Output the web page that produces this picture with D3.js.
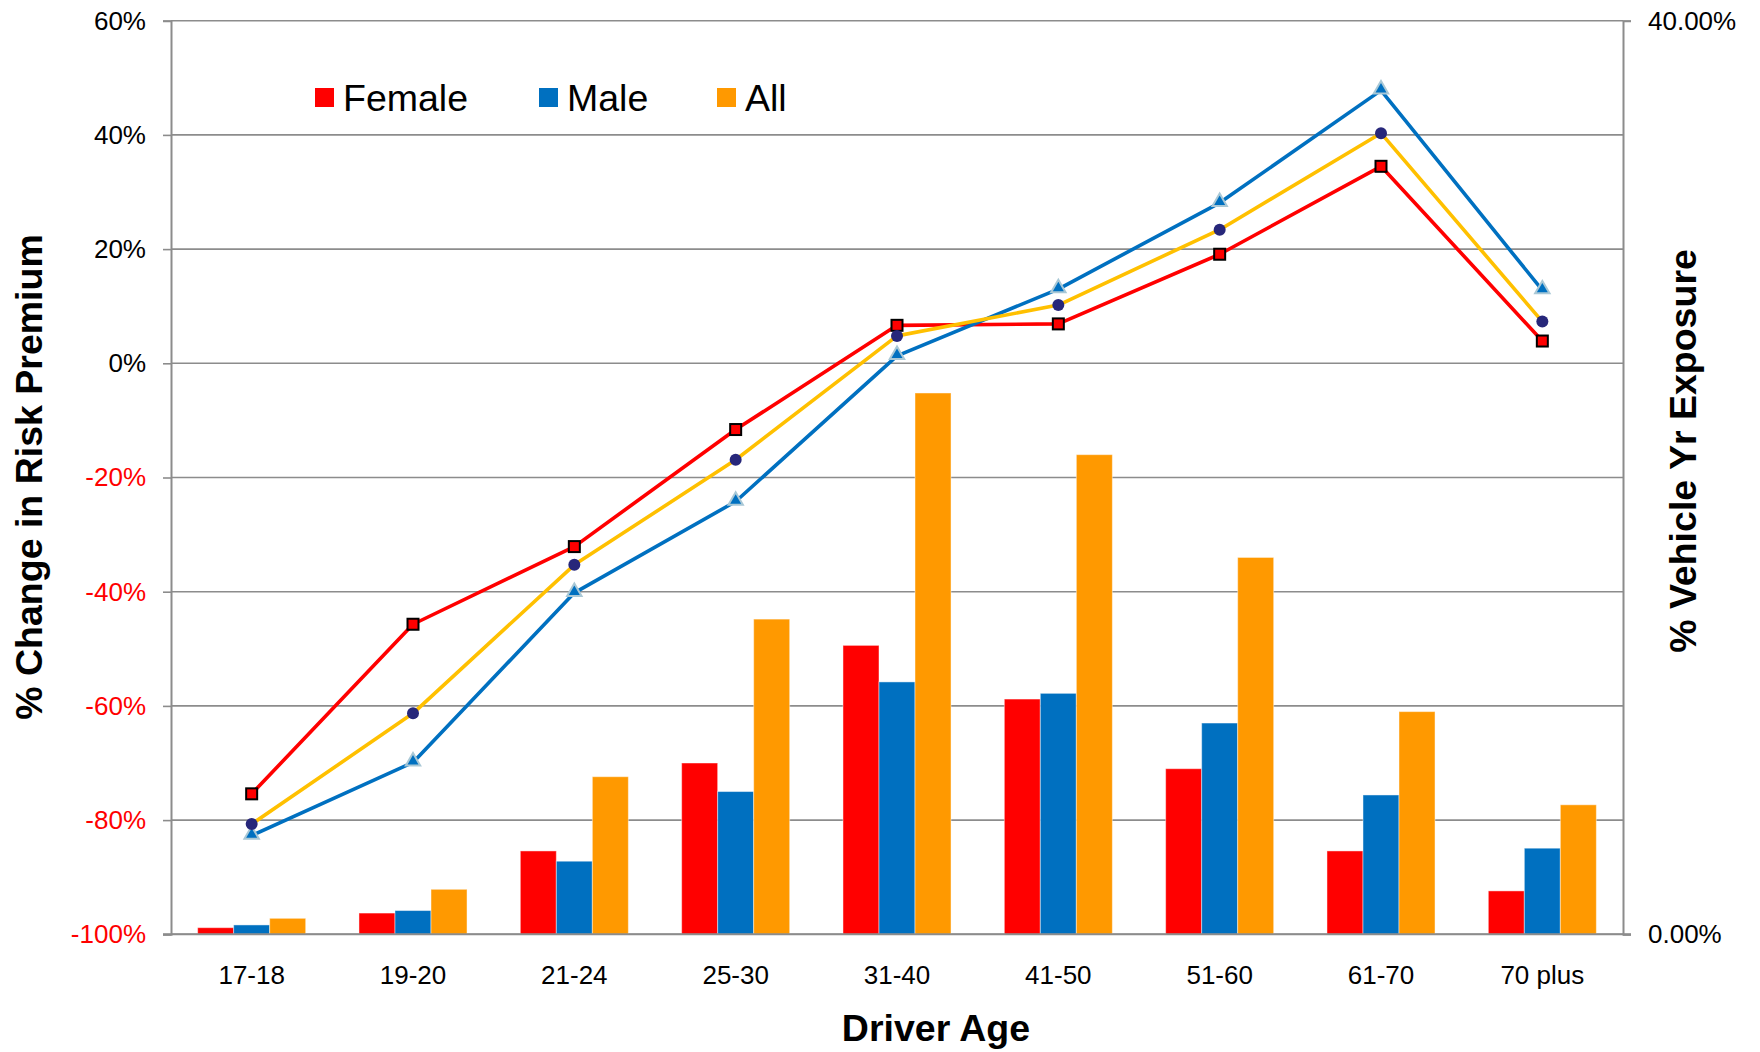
<!DOCTYPE html>
<html>
<head>
<meta charset="utf-8">
<script src="https://cdn.jsdelivr.net/npm/d3@7"></script>
<style>
  html, body { margin: 0; padding: 0; background: #fff; }
  svg { display: block; font-family: "Liberation Sans", Arial, sans-serif; }
</style>
</head>
<body>
<svg id="chart" width="1760" height="1052"></svg>
<script>
// ---- Data ----
const categories = ["17-18","19-20","21-24","25-30","31-40","41-50","51-60","61-70","70 plus"];
const seriesNames = ["Female","Male","All"];
// % Vehicle Yr Exposure (bars, right axis)
const exposureFemale = [0.29, 0.93, 3.65, 7.5, 12.65, 10.3, 7.25, 3.65, 1.90];
const exposureMale   = [0.41, 1.04, 3.2, 6.25, 11.05, 10.55, 9.25, 6.1, 3.77];
const exposureAll    = [0.70, 1.97, 6.9, 13.8, 23.7, 21.0, 16.5, 9.75, 5.67];
// % Change in Risk Premium (lines, left axis)
const riskFemale = [-75.4, -45.7, -32.1, -11.6, 6.65, 6.9, 19.1, 34.5, 3.9];
const riskMale   = [-82.7, -69.9, -40.2, -24.2, 1.3, 13.0, 28.1, 47.8, 12.8];
const riskAll    = [-80.7, -61.3, -35.3, -16.9, 4.8, 10.2, 23.4, 40.3, 7.3];
const leftTicks = [60, 40, 20, 0, -20, -40, -60, -80, -100];
const rightTicks = [0, 40];

// ---- Layout ----
const svg = d3.select("#chart");
const L = 171, R = 1623, T = 20.7, B = 934.3;
const barColors = {Female: "#FF0000", Male: "#0070C0", All: "#FF9900"};
const gridColor = "#8C8C8C";

const x = d3.scaleBand().domain(categories).range([L, R]).paddingInner(0).paddingOuter(0);
const xs = d3.scaleBand().domain(seriesNames).range([0, x.bandwidth()]).paddingInner(0).paddingOuter(0.74);
const yL = d3.scaleLinear().domain([-100, 60]).range([B, T]);
const yR = d3.scaleLinear().domain([0, 40]).range([B, T]);

// gridlines
svg.append("g").selectAll("line").data(leftTicks).join("line")
  .attr("x1", L).attr("x2", R)
  .attr("y1", d => yL(d)).attr("y2", d => yL(d))
  .attr("stroke", gridColor).attr("stroke-width", 1.6);

// bars
const barData = [];
categories.forEach((c, i) => {
  barData.push({c, s: "Female", v: exposureFemale[i]});
  barData.push({c, s: "Male", v: exposureMale[i]});
  barData.push({c, s: "All", v: exposureAll[i]});
});
svg.append("g").selectAll("rect").data(barData).join("rect")
  .attr("x", d => x(d.c) + xs(d.s))
  .attr("width", xs.bandwidth())
  .attr("y", d => yR(d.v))
  .attr("height", d => yR(0) - yR(d.v))
  .attr("fill", d => barColors[d.s])
  .attr("stroke", "rgba(255,255,255,0.45)").attr("stroke-width", 1);

// axes
const axisL = svg.append("g").attr("transform", `translate(${L},0)`)
  .call(d3.axisLeft(yL).tickValues(leftTicks).tickSize(8).tickPadding(17).tickFormat(d => d + "%"));
axisL.select(".domain").attr("stroke", gridColor).attr("stroke-width", 2);
axisL.selectAll(".tick line").attr("stroke", gridColor).attr("stroke-width", 1.6);
axisL.selectAll(".tick text").attr("font-size", 26).attr("font-family", "Liberation Sans, Arial, sans-serif")
  .attr("fill", d => d < 0 ? "#FF0000" : "#000");

const axisR = svg.append("g").attr("transform", `translate(${R},0)`)
  .call(d3.axisRight(yR).tickValues(rightTicks).tickSize(8).tickPadding(17).tickFormat(d => d.toFixed(2) + "%"));
axisR.select(".domain").attr("stroke", gridColor).attr("stroke-width", 2);
axisR.selectAll(".tick line").attr("stroke", gridColor).attr("stroke-width", 1.6);
axisR.selectAll(".tick text").attr("font-size", 26).attr("font-family", "Liberation Sans, Arial, sans-serif").attr("fill", "#000");

const axisB = svg.append("g").attr("transform", `translate(0,${B})`)
  .call(d3.axisBottom(x).tickSize(0).tickPadding(31));
axisB.select(".domain").attr("stroke", gridColor).attr("stroke-width", 2).attr("d", `M${L - 8},0H${R + 8}`);
axisB.selectAll(".tick text").attr("font-size", 26).attr("font-family", "Liberation Sans, Arial, sans-serif").attr("fill", "#000");

// lines
const cx = c => x(c) + x.bandwidth() / 2;
const lineSeries = [
  {name: "Female", vals: riskFemale, color: "#FF0000"},
  {name: "Male", vals: riskMale, color: "#0070C0"},
  {name: "All", vals: riskAll, color: "#FFC000"}
];
const line = d3.line().x(d => cx(d.c)).y(d => yL(d.v));
lineSeries.forEach(s => {
  svg.append("path")
    .datum(categories.map((c, i) => ({c, v: s.vals[i]})))
    .attr("d", line).attr("fill", "none")
    .attr("stroke", s.color).attr("stroke-width", 3.6).attr("stroke-linejoin", "round");
});

// markers
const pts = s => categories.map((c, i) => ({c, v: s[i]}));
svg.append("g").selectAll("rect").data(pts(riskFemale)).join("rect")
  .attr("x", d => cx(d.c) - 5.5).attr("y", d => yL(d.v) - 5.5)
  .attr("width", 11).attr("height", 11)
  .attr("fill", "#FF0000").attr("stroke", "#000").attr("stroke-width", 2);
const tri = d3.symbol().type(d3.symbolTriangle).size(90);
svg.append("g").selectAll("path").data(pts(riskMale)).join("path")
  .attr("transform", d => `translate(${cx(d.c)},${yL(d.v) - 1})`)
  .attr("d", tri).attr("fill", "#0070C0").attr("stroke", "#A9C8D6").attr("stroke-width", 2);
svg.append("g").selectAll("circle").data(pts(riskAll)).join("circle")
  .attr("cx", d => cx(d.c)).attr("cy", d => yL(d.v)).attr("r", 6)
  .attr("fill", "#27277A");

// legend
const legendX = [315, 539, 717];
const lg = svg.append("g").selectAll("g").data(seriesNames).join("g")
  .attr("transform", (d, i) => `translate(${legendX[i]},88)`);
lg.append("rect").attr("width", 19).attr("height", 19).attr("fill", d => barColors[d]);
lg.append("text").attr("x", 28).attr("y", 23).attr("font-size", 37.5).attr("fill", "#000").text(d => d);

// titles
svg.append("text").attr("transform", "translate(42,477) rotate(-90)")
  .attr("text-anchor", "middle").attr("font-size", 37.5).attr("font-weight", "bold").attr("fill", "#000")
  .text("% Change in Risk Premium");
svg.append("text").attr("transform", "translate(1696,451) rotate(-90)")
  .attr("text-anchor", "middle").attr("font-size", 37.5).attr("font-weight", "bold").attr("fill", "#000")
  .text("% Vehicle Yr Exposure");
svg.append("text").attr("x", 936).attr("y", 1041)
  .attr("text-anchor", "middle").attr("font-size", 37.5).attr("font-weight", "bold").attr("fill", "#000")
  .text("Driver Age");
</script>
</body>
</html>
